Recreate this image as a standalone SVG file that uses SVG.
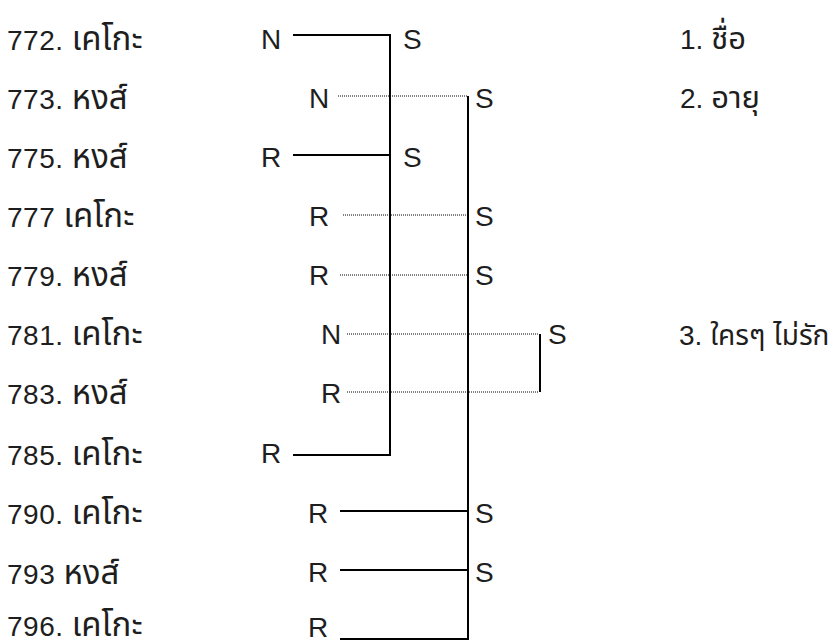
<svg xmlns="http://www.w3.org/2000/svg" width="837" height="642" viewBox="0 0 837 642">
<style>
text{font-family:"Liberation Sans","Noto Sans Thai","Noto Sans",sans-serif;fill:#1e1e1e;font-size:28px}
.lab{letter-spacing:0.5px}
.th{font-size:33px;letter-spacing:0}
.nt{font-size:31px}
.nt3{font-size:28px}
.sol{stroke:#000;stroke-width:2;fill:none}
.dot{stroke:#000;stroke-width:1;stroke-dasharray:1 1;fill:none}
</style>
<rect width="837" height="642" fill="#fff"/>
<g id="connectors">
<path class="sol" d="M293 35H390M293 155H390M293 455H390M390 34V456"/>
<path class="sol" d="M340 511H468M340 570H468M340 639H468M468 96V640"/>
<path class="sol" d="M540 334V392"/>
<path class="dot" d="M338 96H467M343 215H467M340 275H467M347 334H539M347 392H539"/>
</g>
<g id="row772"><text class="lab" x="7" y="50">772. <tspan class="th">เคโกะ</tspan></text><text x="261" y="49">N</text><text x="403" y="49">S</text></g>
<g id="row773"><text class="lab" x="7" y="109">773. <tspan class="th">หงส์</tspan></text><text x="309" y="108">N</text><text x="475" y="108">S</text></g>
<g id="row775"><text class="lab" x="7" y="168">775. <tspan class="th">หงส์</tspan></text><text x="261" y="167">R</text><text x="403" y="167">S</text></g>
<g id="row777"><text class="lab" x="7" y="227">777 <tspan class="th">เคโกะ</tspan></text><text x="309" y="226">R</text><text x="475" y="226">S</text></g>
<g id="row779"><text class="lab" x="7" y="286">779. <tspan class="th">หงส์</tspan></text><text x="309" y="285">R</text><text x="475" y="285">S</text></g>
<g id="row781"><text class="lab" x="7" y="345">781. <tspan class="th">เคโกะ</tspan></text><text x="321" y="344">N</text><text x="548" y="344">S</text></g>
<g id="row783"><text class="lab" x="7" y="404">783. <tspan class="th">หงส์</tspan></text><text x="321" y="403">R</text></g>
<g id="row785"><text class="lab" x="7" y="465">785. <tspan class="th">เคโกะ</tspan></text><text x="261" y="463">R</text></g>
<g id="row790"><text class="lab" x="7" y="524">790. <tspan class="th">เคโกะ</tspan></text><text x="308" y="523">R</text><text x="475" y="523">S</text></g>
<g id="row793"><text class="lab" x="7" y="584">793 <tspan class="th">หงส์</tspan></text><text x="308" y="582">R</text><text x="475" y="582">S</text></g>
<g id="row796"><text class="lab" x="7" y="636">796. <tspan class="th">เคโกะ</tspan></text><text x="308" y="637">R</text></g>
<g id="notes">
<text x="680" y="49">1. <tspan class="th nt">ชื่อ</tspan></text>
<text x="680" y="108">2. <tspan class="th nt">อายุ</tspan></text>
<text x="679" y="345">3. <tspan class="nt3">ใครๆ ไม่รัก</tspan></text>
</g>
</svg>
